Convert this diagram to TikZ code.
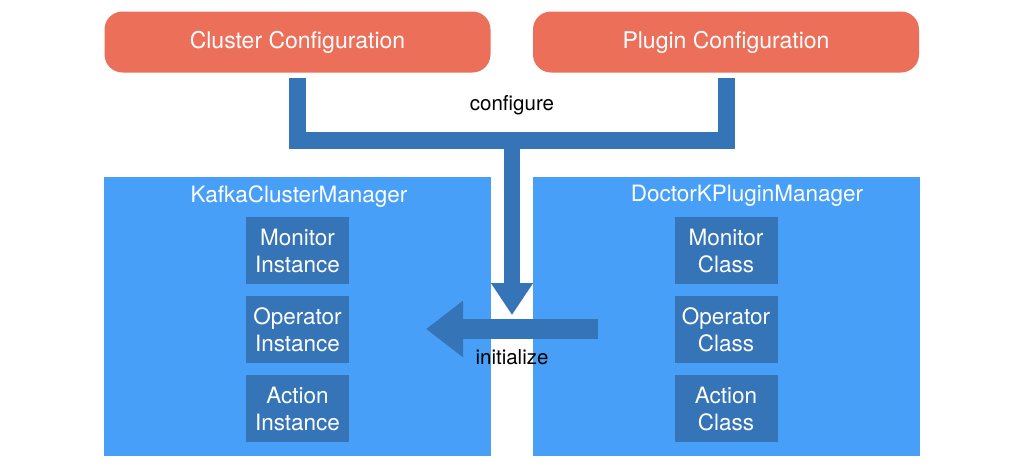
\documentclass[tikz,border=0pt]{standalone}
\usepackage{fontspec}
\setmainfont{TeX Gyre Heros}
\usetikzlibrary{arrows.meta}
\definecolor{cfgred}{HTML}{EC6F5A}
\definecolor{mgrblue}{HTML}{489FF8}
\definecolor{pipeblue}{HTML}{3574B6}

\begin{document}
\begin{tikzpicture}[x=1pt,y=-1pt]
  \tikzset{cfgbox/.style={fill=cfgred,rounded corners=18pt,minimum width=386pt,minimum height=61pt,
        text=white,font=\fontsize{23}{27}\selectfont},
    mgrbox/.style={fill=mgrblue,minimum width=387pt,minimum height=279pt},
    mgrtitle/.style={text=white,font=\fontsize{22.5}{26}\selectfont},
    partbox/.style={fill=pipeblue,minimum width=103pt,minimum height=67pt,text width=100pt,align=center,
        inner sep=0pt,text=white,font=\fontsize{22.5}{27}\selectfont},
    pipe/.style={draw=pipeblue,line width=17pt},
    lbl/.style={font=\fontsize{20.5}{24}\selectfont}}
  \useasboundingbox (0,0) rectangle (1024,469);
  \node[cfgbox] (cluster) at (297.5,42) {\raisebox{-2pt}{Cluster Configuration}};
  \node[cfgbox] (plugin) at (726,42) {\raisebox{-2pt}{Plugin Configuration}};
  \node[mgrbox] (kafkamgr) at (297.5,316.5) {};
  \node[mgrbox] (doctormgr) at (726,316.5) {};
  \node[mgrtitle] (kafkatitle) at (299,197) {KafkaClusterManager};
  \node[mgrtitle] (doctortitle) at (747,196) {DoctorKPluginManager};
  \node[partbox] (moninst) at (297.5,250.5) {Monitor\\Instance};
  \node[partbox] (opinst) at (297.5,329.5) {Operator\\Instance};
  \node[partbox] (actinst) at (297.5,408.5) {Action\\Instance};
  \node[partbox] (monclass) at (726,250.5) {Monitor\\Class};
  \node[partbox] (opclass) at (726,329.5) {Operator\\Class};
  \node[partbox] (actclass) at (726,408.5) {Action\\Class};
  \coordinate (hub) at (512,140.5);
  \coordinate (cfgtip) at (512,315);
  \coordinate (initsrc) at (598,329);
  \coordinate (inittip) at (426,329);
  \draw[pipe,miter limit=10,shorten <=5pt,shorten >=5pt] (cluster.south) |- (hub) -| (plugin.south);
  \draw[pipe,line width=16pt,-{Triangle[length=32pt,width=40pt]}] (hub) -- (cfgtip);
  \draw[pipe,line width=20pt,-{Triangle[length=37pt,width=54pt]}] (initsrc) -- (inittip);
  \node[lbl] (configure) at (512,105) {configure};
  \node[lbl] (initialize) at (512,357) {initialize};
\end{tikzpicture}
\end{document}
